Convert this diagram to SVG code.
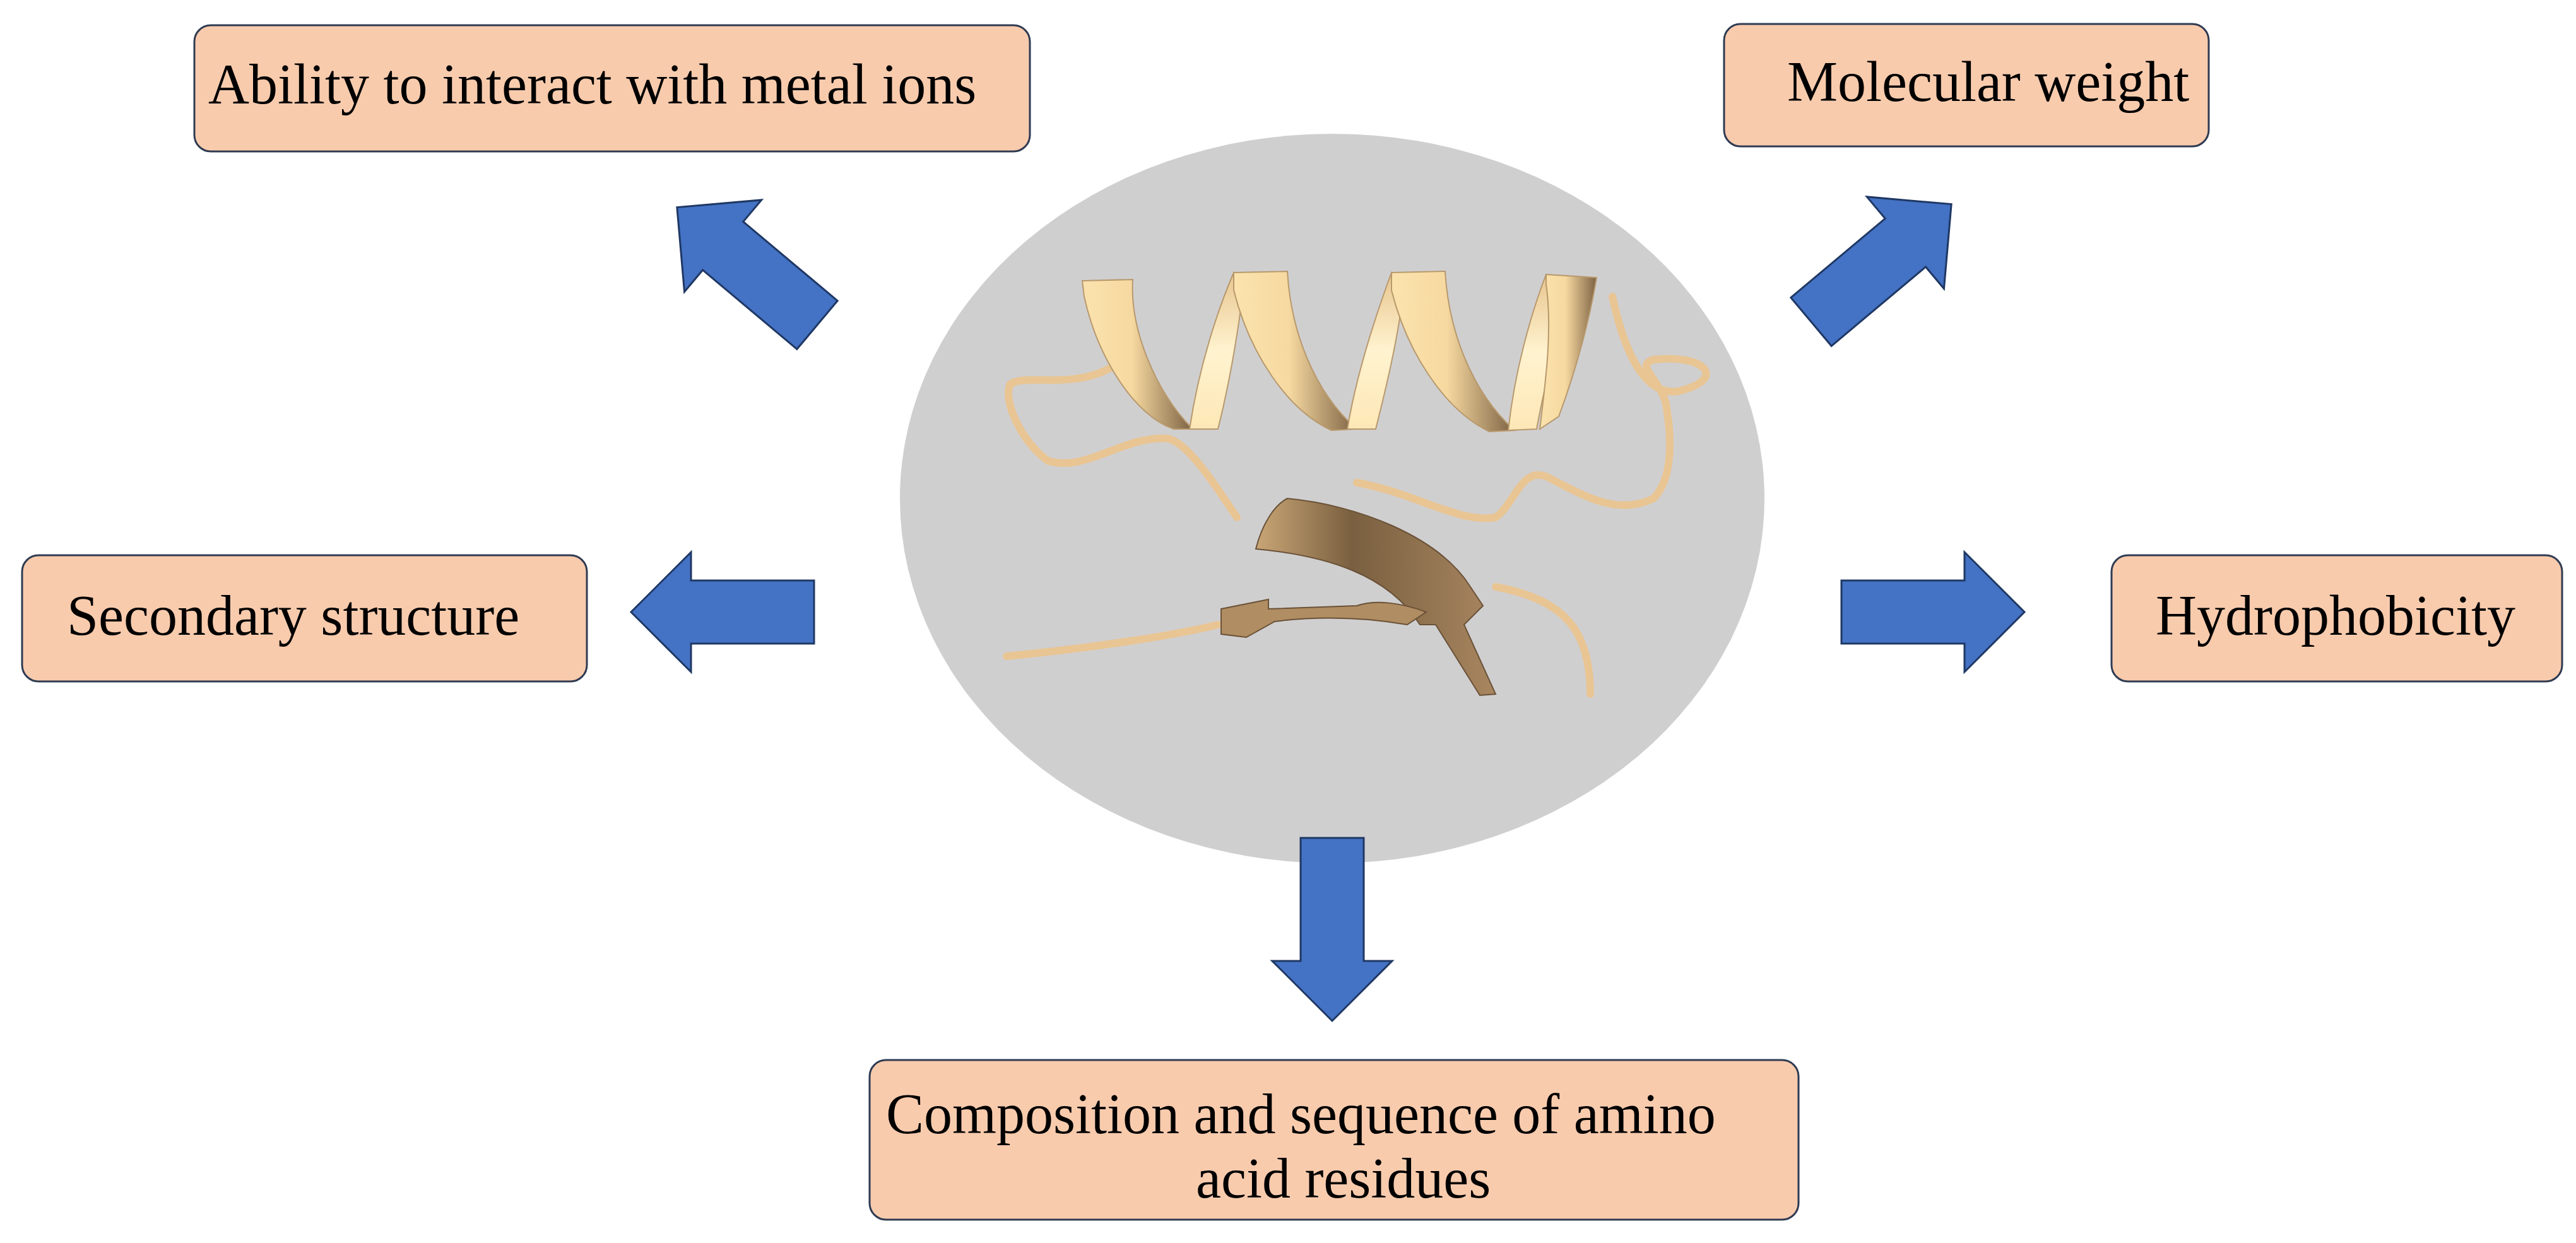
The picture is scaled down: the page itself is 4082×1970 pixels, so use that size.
<svg xmlns="http://www.w3.org/2000/svg" width="4082" height="1970" viewBox="0 0 4082 1970">
<defs>
<style>
.box{fill:#f8cbad;stroke:#2f3b52;stroke-width:3}
.t{font-family:"Liberation Serif",serif;font-size:90px;fill:#000}
.arr{fill:#4472c4;stroke:#1f3864;stroke-width:3}
.coil{fill:none;stroke:#e8c593;stroke-width:12;stroke-linecap:round}
.rib{fill:url(#rg);stroke:#b8996c;stroke-width:2}
.up{fill:url(#ug);stroke:#b8996c;stroke-width:2}
</style>
<linearGradient id="rg" x1="0" y1="0" x2="1" y2="0"><stop offset="0" stop-color="#fbe2ad"/><stop offset="0.45" stop-color="#f6d9a0"/><stop offset="1" stop-color="#7d6244"/></linearGradient>
<linearGradient id="ug" x1="0" y1="1" x2="0" y2="0"><stop offset="0" stop-color="#fde7b6"/><stop offset="0.5" stop-color="#fff3cf"/><stop offset="1" stop-color="#e8c58f"/></linearGradient>
<linearGradient id="sg" x1="0" y1="0" x2="1" y2="0"><stop offset="0" stop-color="#c9a676"/><stop offset="0.4" stop-color="#7a6040"/><stop offset="1" stop-color="#a88660"/></linearGradient>
<path id="a" d="M0,-50 L195,-50 L195,-95 L290,0 L195,95 L195,50 L0,50Z"/>
</defs>
<rect width="4082" height="1970" fill="#fff"/>
<g id="protein">
<ellipse cx="2111" cy="790" rx="685" ry="578" fill="#d0cfd0"/>
<path class="coil" d="M1765,580 C1700,620 1620,590 1600,610 C1590,640 1620,700 1660,730 C1720,750 1780,690 1850,695 C1880,700 1920,760 1960,820"/>
<path class="coil" d="M2150,765 C2240,780 2310,830 2370,820 C2400,800 2410,740 2450,755 C2500,780 2560,820 2620,790 C2650,760 2650,700 2640,640 C2630,600 2590,580 2620,570 C2700,560 2740,600 2660,620 C2600,630 2570,540 2555,470"/>
<path class="coil" d="M1595,1040 C1700,1030 1850,1010 1930,990"/>
<path class="coil" d="M2370,930 C2480,950 2520,1000 2520,1100"/>
<!-- helix turns -->
<path class="rib" d="M1715,445 L1795,443 C1790,520 1830,620 1890,680 L1860,680 C1800,660 1740,570 1718,470Z"/>
<path class="up" d="M1885,680 C1900,580 1930,490 1955,432 L1970,460 C1960,540 1945,620 1930,680Z"/>
<path class="rib" d="M1955,432 L2040,430 C2045,520 2080,620 2150,680 L2110,682 C2040,650 1980,560 1955,460Z"/>
<path class="up" d="M2135,680 C2150,590 2180,500 2205,432 L2225,455 C2215,540 2195,620 2180,680Z"/>
<path class="rib" d="M2205,432 L2290,430 C2295,520 2330,620 2400,682 L2360,684 C2290,650 2230,560 2205,460Z"/>
<path class="up" d="M2390,682 C2400,590 2425,500 2450,435 L2470,450 C2470,540 2445,620 2435,680Z"/>
<path class="rib" d="M2450,435 L2530,440 C2520,500 2500,580 2470,660 L2440,680 C2450,600 2460,520 2450,450Z"/>
<!-- strands -->
<path d="M2040,790 C2150,800 2280,850 2330,930 L2350,960 L2320,990 L2370,1100 L2345,1102 L2275,990 L2250,990 C2200,910 2100,880 1990,870 C2000,830 2020,800 2040,790Z" fill="url(#sg)" stroke="#6a5238" stroke-width="2"/>
<path d="M1935,965 L2010,950 L2010,965 L2150,960 C2180,950 2220,955 2260,970 L2230,990 C2170,980 2100,975 2020,985 L1975,1010 L1935,1005Z" fill="#b08d62" stroke="#6a5238" stroke-width="2"/>
</g>
<g id="n1"><rect class="box" x="308" y="40" width="1324" height="200" rx="26"/><text class="t" x="330" y="164">Ability to interact with metal ions</text></g>
<g id="n2"><rect class="box" x="2732" y="38" width="768" height="194" rx="26"/><text class="t" x="2832" y="160">Molecular weight</text></g>
<g id="n3"><rect class="box" x="35" y="880" width="895" height="200" rx="26"/><text class="t" x="106" y="1006">Secondary structure</text></g>
<g id="n4"><rect class="box" x="3346" y="880" width="714" height="200" rx="26"/><text class="t" x="3416" y="1006">Hydrophobicity</text></g>
<g id="n5"><rect class="box" x="1378" y="1680" width="1472" height="253" rx="26"/><text class="t" x="1404" y="1796">Composition and sequence of amino</text><text class="t" x="1895" y="1898">acid residues</text></g>
<g id="connectors">
<use href="#a" class="arr" transform="translate(1290,970) rotate(180)"/>
<use href="#a" class="arr" transform="translate(2918,970)"/>
<use href="#a" class="arr" transform="translate(2111,1328) rotate(90)"/>
<use href="#a" class="arr" transform="translate(1295,515) rotate(-140)"/>
<use href="#a" class="arr" transform="translate(2870,510) rotate(-40)"/>
</g>
</svg>
